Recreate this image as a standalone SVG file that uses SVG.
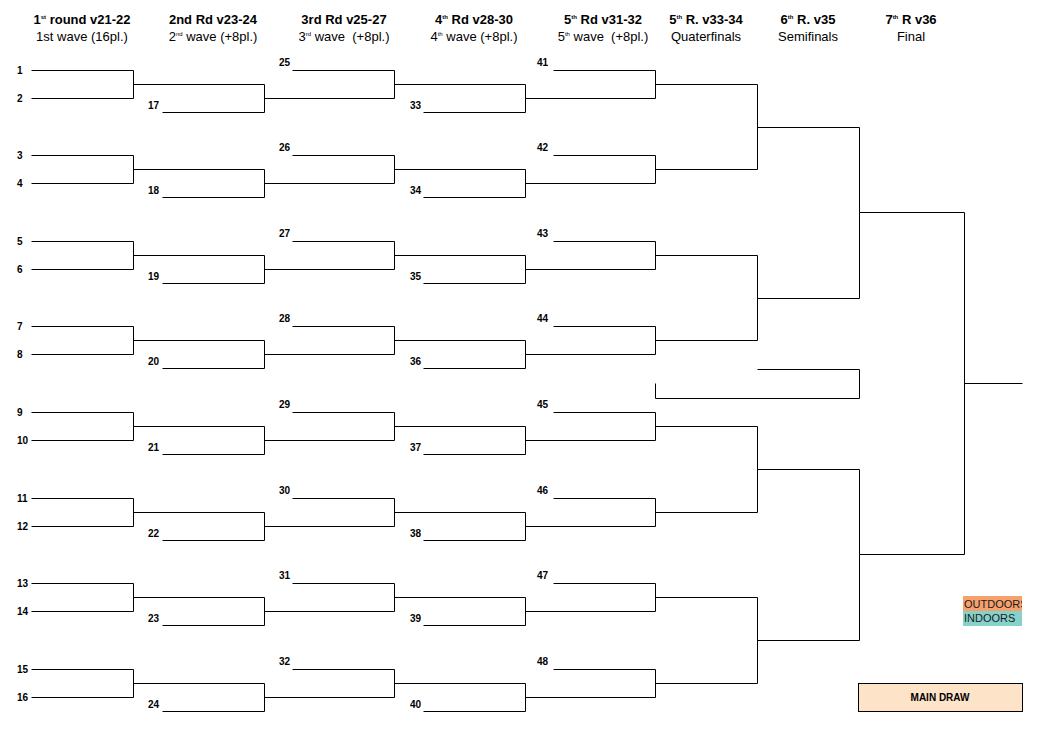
<svg xmlns="http://www.w3.org/2000/svg" width="1050" height="739" viewBox="0 0 1050 739">
<defs>
<style>
.h1{font-family:"Liberation Sans",Arial,sans-serif;font-size:13px;font-weight:bold;fill:#000;text-anchor:middle}
.h2{font-family:"Liberation Sans",Arial,sans-serif;font-size:13px;fill:#000;text-anchor:middle}
.sup{font-size:6px}
.n{font-family:"Liberation Sans",Arial,sans-serif;font-size:10px;font-weight:bold;fill:#000}
.ln{fill:none;stroke:#000;stroke-width:1}
.lg{font-family:"Liberation Sans",Arial,sans-serif;font-size:11px;fill:#1a1a1a}
</style>
<clipPath id="lgclip"><rect x="963" y="596" width="59" height="30"/></clipPath>
</defs>
<rect width="1050" height="739" fill="#fff"/>
<g id="headers">
<text class="h1" x="82" y="24">1<tspan class="sup" dy="-5">st</tspan><tspan dy="5"> round v21-22</tspan></text>
<text class="h2" x="82" y="41">1st wave (16pl.)</text>
<text class="h1" x="213" y="24">2nd Rd v23-24</text>
<text class="h2" x="213" y="41">2<tspan class="sup" dy="-5">nd</tspan><tspan dy="5"> wave (+8pl.)</tspan></text>
<text class="h1" x="344" y="24">3rd Rd v25-27</text>
<text class="h2" x="344" y="41" xml:space="preserve">3<tspan class="sup" dy="-5">rd</tspan><tspan dy="5"> wave  (+8pl.)</tspan></text>
<text class="h1" x="474" y="24">4<tspan class="sup" dy="-5">th</tspan><tspan dy="5"> Rd v28-30</tspan></text>
<text class="h2" x="474" y="41">4<tspan class="sup" dy="-5">th</tspan><tspan dy="5"> wave (+8pl.)</tspan></text>
<text class="h1" x="603" y="24">5<tspan class="sup" dy="-5">th</tspan><tspan dy="5"> Rd v31-32</tspan></text>
<text class="h2" x="603" y="41" xml:space="preserve">5<tspan class="sup" dy="-5">th</tspan><tspan dy="5"> wave  (+8pl.)</tspan></text>
<text class="h1" x="706" y="24">5<tspan class="sup" dy="-5">th</tspan><tspan dy="5"> R. v33-34</tspan></text>
<text class="h2" x="706" y="41">Quaterfinals</text>
<text class="h1" x="808" y="24">6<tspan class="sup" dy="-5">th</tspan><tspan dy="5"> R. v35</tspan></text>
<text class="h2" x="808" y="41">Semifinals</text>
<text class="h1" x="911" y="24">7<tspan class="sup" dy="-5">th</tspan><tspan dy="5"> R v36</tspan></text>
<text class="h2" x="911" y="41">Final</text>
</g>
<g id="slots" transform="translate(0.5,0.5)">
<path class="ln" d="M31 70H133M31 98H133M162 112H264M292 70H394M423 112H525M553 70H655
M31 155H133M31 183H133M162 197H264M292 155H394M423 197H525M553 155H655
M31 241H133M31 269H133M162 283H264M292 241H394M423 283H525M553 241H655
M31 326H133M31 354H133M162 368H264M292 326H394M423 368H525M553 326H655
M31 412H133M31 440H133M162 454H264M292 412H394M423 454H525M553 412H655
M31 498H133M31 526H133M162 540H264M292 498H394M423 540H525M553 498H655
M31 583H133M31 611H133M162 625H264M292 583H394M423 625H525M553 583H655
M31 669H133M31 697H133M162 711H264M292 669H394M423 711H525M553 669H655"/>
</g>
<g id="labels">
<g id="n1"><text class="n" x="17" y="74">1</text></g>
<g id="n2"><text class="n" x="17" y="102">2</text></g>
<g id="n3"><text class="n" x="17" y="159">3</text></g>
<g id="n4"><text class="n" x="17" y="187">4</text></g>
<g id="n5"><text class="n" x="17" y="245">5</text></g>
<g id="n6"><text class="n" x="17" y="273">6</text></g>
<g id="n7"><text class="n" x="17" y="330">7</text></g>
<g id="n8"><text class="n" x="17" y="358">8</text></g>
<g id="n9"><text class="n" x="17" y="416">9</text></g>
<g id="n10"><text class="n" x="17" y="444">10</text></g>
<g id="n11"><text class="n" x="17" y="502">11</text></g>
<g id="n12"><text class="n" x="17" y="530">12</text></g>
<g id="n13"><text class="n" x="17" y="587">13</text></g>
<g id="n14"><text class="n" x="17" y="615">14</text></g>
<g id="n15"><text class="n" x="17" y="673">15</text></g>
<g id="n16"><text class="n" x="17" y="701">16</text></g>
<g id="n17"><text class="n" x="148" y="109">17</text></g>
<g id="n18"><text class="n" x="148" y="194">18</text></g>
<g id="n19"><text class="n" x="148" y="280">19</text></g>
<g id="n20"><text class="n" x="148" y="365">20</text></g>
<g id="n21"><text class="n" x="148" y="451">21</text></g>
<g id="n22"><text class="n" x="148" y="537">22</text></g>
<g id="n23"><text class="n" x="148" y="622">23</text></g>
<g id="n24"><text class="n" x="148" y="708">24</text></g>
<g id="n25"><text class="n" x="279" y="66">25</text></g>
<g id="n26"><text class="n" x="279" y="151">26</text></g>
<g id="n27"><text class="n" x="279" y="237">27</text></g>
<g id="n28"><text class="n" x="279" y="322">28</text></g>
<g id="n29"><text class="n" x="279" y="408">29</text></g>
<g id="n30"><text class="n" x="279" y="494">30</text></g>
<g id="n31"><text class="n" x="279" y="579">31</text></g>
<g id="n32"><text class="n" x="279" y="665">32</text></g>
<g id="n33"><text class="n" x="410" y="109">33</text></g>
<g id="n34"><text class="n" x="410" y="194">34</text></g>
<g id="n35"><text class="n" x="410" y="280">35</text></g>
<g id="n36"><text class="n" x="410" y="365">36</text></g>
<g id="n37"><text class="n" x="410" y="451">37</text></g>
<g id="n38"><text class="n" x="410" y="537">38</text></g>
<g id="n39"><text class="n" x="410" y="622">39</text></g>
<g id="n40"><text class="n" x="410" y="708">40</text></g>
<g id="n41"><text class="n" x="537" y="66">41</text></g>
<g id="n42"><text class="n" x="537" y="151">42</text></g>
<g id="n43"><text class="n" x="537" y="237">43</text></g>
<g id="n44"><text class="n" x="537" y="322">44</text></g>
<g id="n45"><text class="n" x="537" y="408">45</text></g>
<g id="n46"><text class="n" x="537" y="494">46</text></g>
<g id="n47"><text class="n" x="537" y="579">47</text></g>
<g id="n48"><text class="n" x="537" y="665">48</text></g>
</g>
<g id="connectors" transform="translate(0.5,0.5)">
<path class="ln" d="M133 70V98M133 84H264M264 84V112M264 98H394M394 70V98M394 84H525M525 84V112M525 98H655M655 70V98M655 84H757
M133 155V183M133 169H264M264 169V197M264 183H394M394 155V183M394 169H525M525 169V197M525 183H655M655 155V183M655 169H757
M133 241V269M133 255H264M264 255V283M264 269H394M394 241V269M394 255H525M525 255V283M525 269H655M655 241V269M655 255H757
M133 326V354M133 340H264M264 340V368M264 354H394M394 326V354M394 340H525M525 340V368M525 354H655M655 326V354M655 340H757
M133 412V440M133 426H264M264 426V454M264 440H394M394 412V440M394 426H525M525 426V454M525 440H655M655 412V440M655 426H757
M133 498V526M133 512H264M264 512V540M264 526H394M394 498V526M394 512H525M525 512V540M525 526H655M655 498V526M655 512H757
M133 583V611M133 597H264M264 597V625M264 611H394M394 583V611M394 597H525M525 597V625M525 611H655M655 583V611M655 597H757
M133 669V697M133 683H264M264 683V711M264 697H394M394 669V697M394 683H525M525 683V711M525 697H655M655 669V697M655 683H757
M757 84V169M757 127H859M757 255V340M757 298H859M859 127V298M859 212H964
M757 426V512M757 469H859M757 597V683M757 640H859M859 469V640M859 554H964
M964 212V554M964 383H1022
M655 383V398H859V369H757"/>
</g>
<g id="legend">
<g clip-path="url(#lgclip)">
<rect x="963" y="596" width="59" height="15" fill="#f6a06c"/>
<rect x="963" y="611" width="59" height="15" fill="#86d2cb"/>
<text class="lg" x="964" y="608">OUTDOORS</text>
<text class="lg" x="964" y="622">INDOORS</text>
</g>
</g>
<g id="main-draw">
<rect x="858.5" y="683.5" width="164" height="28" fill="#fde4c9" stroke="#000" stroke-width="1"/>
<text x="940" y="701" font-family="Liberation Sans, Arial, sans-serif" font-size="10" font-weight="bold" text-anchor="middle">MAIN DRAW</text>
</g>
</svg>
